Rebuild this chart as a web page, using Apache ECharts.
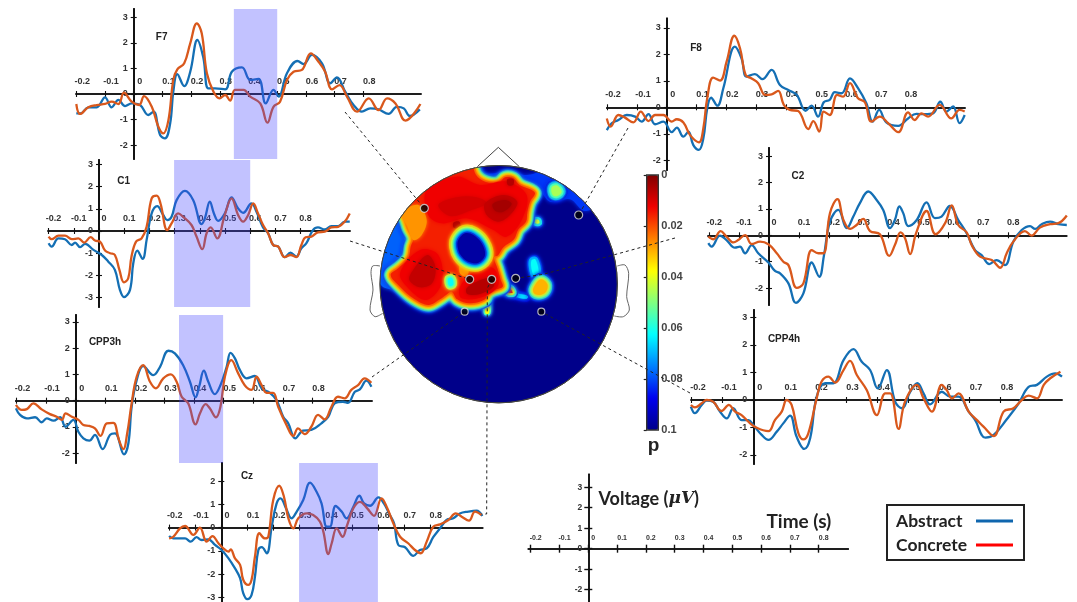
<!DOCTYPE html>
<html><head><meta charset="utf-8">
<style>html,body{margin:0;padding:0;background:#fff}#c{width:1077px;height:602px;filter:blur(0.4px)}</style>
<script src="https://cdn.jsdelivr.net/npm/echarts@6/dist/echarts.min.js"></script>
</head><body><div id="c"></div>
<script>
const xTickLabels=[-0.2,-0.1,0,0.1,0.2,0.3,0.4,0.5,0.6,0.7,0.8];
const yTicksF7=[-2,-1,0,1,2,3], yTicksC=[-3,-2,-1,0,1,2,3], yTicksCz=[-3,-2,-1,0,1,2], yTicksStd=[-2,-1,0,1,2,3];
const pTicks=[0,0.02,0.04,0.06,0.08,0.1];

const f7Abstract=[[-0.2,-0.76],[-0.185,-0.76],[-0.158,-0.52],[-0.129,-0.52],[-0.1,-0.13],[-0.077,-0.52],[-0.053,-0.23],[-0.03,-0.47],[-0.007,-0.37],[0.022,-0.43],[0.051,-0.82],[0.069,-0.69],[0.092,-1.6],[0.109,-1.73],[0.127,-1.15],[0.138,0.09],[0.152,0.78],[0.176,0.31],[0.197,0.87],[0.222,2.11],[0.243,1.4],[0.26,0.22],[0.284,0.22],[0.319,0.18],[0.342,0.87],[0.377,1.04],[0.406,0.55],[0.435,0.59],[0.46,-0.37],[0.487,0.16],[0.505,-0.1],[0.534,0.81],[0.571,1.29],[0.592,1.17],[0.621,1.53],[0.656,1.2],[0.685,0.42],[0.708,0.65],[0.737,0.09],[0.766,-0.43],[0.795,-0.69],[0.824,-0.56],[0.853,-0.6],[0.888,-0.78],[0.917,-0.5],[0.941,-0.56],[0.962,-0.86],[0.997,-0.6]];
const f7Concrete=[[-0.2,-0.39],[-0.187,-0.78],[-0.158,-0.52],[-0.129,-0.43],[-0.1,-0.39],[-0.077,-0.3],[-0.053,-0.39],[-0.034,0.05],[-0.007,-0.3],[0.019,-0.43],[0.036,-0.08],[0.063,-0.5],[0.086,-1.28],[0.103,-1.54],[0.121,-1.02],[0.138,0.55],[0.152,0.96],[0.176,1.2],[0.197,1.98],[0.22,2.76],[0.237,2.37],[0.255,0.81],[0.278,0.09],[0.299,-0.17],[0.319,-0.04],[0.336,-0.26],[0.353,0.16],[0.383,0.16],[0.406,-0.1],[0.441,-0.37],[0.466,-1.12],[0.487,-0.5],[0.51,-0.3],[0.534,0.55],[0.557,0.87],[0.586,0.94],[0.617,1.59],[0.644,1.26],[0.667,0.87],[0.691,0.18],[0.717,0.35],[0.743,-0.1],[0.778,-0.69],[0.819,-0.17],[0.853,-0.63],[0.883,-0.17],[0.912,-0.37],[0.947,-1.04],[0.999,-0.39]];
const c1Abstract=[[-0.2,-0.55],[-0.188,-0.7],[-0.161,-0.33],[-0.135,-0.37],[-0.108,-0.63],[-0.095,-0.52],[-0.075,-0.73],[-0.055,-0.58],[-0.022,-0.85],[0.011,-1.08],[0.037,-1.38],[0.063,-1.75],[0.083,-2.65],[0.099,-2.98],[0.123,-2.65],[0.136,-1.45],[0.152,-0.88],[0.173,-1.26],[0.189,-0.4],[0.209,0.79],[0.231,1.12],[0.255,0.72],[0.271,0.49],[0.288,0.64],[0.308,1.39],[0.341,1.81],[0.374,1.39],[0.407,0.31],[0.42,0.57],[0.44,1.32],[0.456,0.79],[0.473,0.46],[0.499,0.79],[0.526,1.51],[0.552,1.02],[0.572,0.82],[0.605,1.24],[0.625,0.87],[0.651,0.16],[0.671,-0.1],[0.691,-0.63],[0.711,-0.7],[0.737,-1.18],[0.76,-0.97],[0.783,-1.15],[0.803,-0.78],[0.823,-0.55],[0.849,0.04],[0.869,0.16],[0.896,0.07],[0.922,0.22],[0.949,0.22],[0.975,0.42],[0.995,0.42]];
const c1Concrete=[[-0.2,-0.25],[-0.188,-0.37],[-0.161,-0.21],[-0.135,-0.21],[-0.108,-0.37],[-0.082,-0.33],[-0.059,-0.52],[-0.033,-0.28],[-0.016,-0.43],[0.004,-0.48],[0.024,-0.88],[0.044,-1],[0.063,-1.08],[0.081,-1.75],[0.099,-2.31],[0.116,-2.13],[0.129,-1.15],[0.147,-0.48],[0.169,-0.33],[0.189,0.19],[0.209,1.47],[0.229,1.59],[0.244,1.24],[0.271,0.04],[0.288,0.34],[0.314,0.79],[0.334,0.64],[0.367,0.27],[0.387,-0.25],[0.41,-0.82],[0.427,-0.1],[0.443,0.16],[0.469,-0.33],[0.499,0.72],[0.526,1.47],[0.552,0.72],[0.572,0.42],[0.592,0.72],[0.612,1.24],[0.631,0.79],[0.651,0.27],[0.671,-0.1],[0.691,-0.63],[0.711,-0.7],[0.737,-1.18],[0.76,-1.08],[0.783,-1.18],[0.803,-0.63],[0.82,-0.28],[0.843,-0.25],[0.869,-0.06],[0.896,-0.03],[0.922,0.16],[0.949,0.19],[0.975,0.42],[0.995,0.79]];
const cpp3Abstract=[[-0.202,-0.29],[-0.188,-0.54],[-0.165,-0.67],[-0.137,-0.63],[-0.115,-0.82],[-0.098,-0.67],[-0.075,-0.76],[-0.053,-0.63],[-0.034,-0.99],[-0.008,-0.73],[0.009,-1.18],[0.026,-1.43],[0.046,-1.52],[0.065,-1.3],[0.091,-1.84],[0.116,-1.3],[0.133,-1.24],[0.163,-2.04],[0.178,-1.62],[0.189,-0.23],[0.206,0.78],[0.228,1.32],[0.262,0.97],[0.285,1.29],[0.313,1.9],[0.335,1.8],[0.363,1.35],[0.386,0.72],[0.405,0.13],[0.417,0.53],[0.433,1.14],[0.448,0.72],[0.47,0.25],[0.489,0.59],[0.51,1.29],[0.523,1.82],[0.538,1.61],[0.555,1.16],[0.577,0.85],[0.605,0.94],[0.628,0.47],[0.656,0.3],[0.678,0.03],[0.701,-0.61],[0.718,-0.86],[0.742,-1.43],[0.768,-1.14],[0.796,-1.11],[0.83,-0.86],[0.853,-0.61],[0.875,-0.1],[0.903,-0.04],[0.92,-0.08],[0.943,0.34],[0.96,0.43],[0.982,0.76],[0.999,0.53]];
const cpp3Concrete=[[-0.202,-0.16],[-0.182,-0.35],[-0.165,-0.32],[-0.143,-0.1],[-0.115,-0.33],[-0.087,-0.51],[-0.064,-0.61],[-0.047,-0.73],[-0.034,-0.48],[-0.013,-0.61],[0.009,-0.73],[0.026,-0.92],[0.046,-0.96],[0.065,-1.05],[0.084,-1.34],[0.105,-0.86],[0.127,-0.84],[0.146,-1.49],[0.161,-1.84],[0.174,-1.24],[0.189,-0.1],[0.206,0.91],[0.228,1.35],[0.251,0.72],[0.271,0.47],[0.296,0.85],[0.321,1],[0.341,0.72],[0.358,0.15],[0.38,-0.1],[0.405,-0.9],[0.42,-0.48],[0.439,-0.13],[0.453,-0.29],[0.474,-0.63],[0.489,-0.23],[0.504,0.91],[0.526,1.54],[0.549,1.04],[0.571,0.59],[0.594,0.41],[0.611,0.91],[0.628,0.59],[0.645,0.3],[0.667,0.3],[0.684,-0.23],[0.712,-0.92],[0.735,-1.34],[0.751,-1.05],[0.774,-1.27],[0.796,-0.99],[0.819,-0.54],[0.841,-0.71],[0.864,-0.23],[0.886,0.15],[0.909,0.09],[0.931,0.41],[0.954,0.59],[0.976,0.85],[0.999,0.68]];
const czAbstract=[[-0.2,-0.36],[-0.184,-0.46],[-0.158,-0.46],[-0.139,-0.46],[-0.117,-0.6],[-0.095,-0.41],[-0.075,-0.53],[-0.05,-0.5],[-0.024,-0.74],[0.001,-0.96],[0.027,-1.31],[0.052,-1.74],[0.072,-2.17],[0.084,-2.81],[0.1,-3.07],[0.116,-2.89],[0.129,-2.1],[0.142,-0.96],[0.155,-0.84],[0.174,-1.1],[0.193,0.04],[0.212,1.04],[0.227,1.26],[0.248,0.83],[0.269,0.4],[0.289,0.69],[0.314,1.19],[0.34,1.93],[0.365,1.54],[0.384,1.04],[0.404,0.04],[0.416,0.04],[0.438,0.93],[0.461,0.69],[0.48,0.4],[0.506,0.9],[0.529,1.37],[0.547,1.04],[0.57,0.94],[0.602,1.3],[0.623,1.04],[0.646,0.54],[0.662,0.19],[0.678,-0.74],[0.704,-0.84],[0.736,-1.21],[0.761,-0.96],[0.787,-0.89],[0.812,-0.41],[0.838,-0.03],[0.863,0.33],[0.889,0.4],[0.914,0.61],[0.946,0.69],[0.978,0.73],[1,0.5]];
const czConcrete=[[-0.2,-0.46],[-0.184,-0.39],[-0.158,-0.03],[-0.139,0.07],[-0.107,-0.31],[-0.082,0],[-0.056,-0.6],[-0.034,-0.36],[-0.011,-0.67],[0.008,-0.89],[0.027,-1.03],[0.036,-0.93],[0.052,-1.31],[0.072,-1.6],[0.084,-2.24],[0.103,-2.46],[0.116,-2.24],[0.129,-1.24],[0.146,-0.24],[0.167,-0.46],[0.18,-0.39],[0.199,1.19],[0.222,1.8],[0.24,1.33],[0.257,0.4],[0.276,-0.03],[0.295,0.4],[0.327,0.61],[0.352,0.54],[0.378,0.26],[0.391,-0.17],[0.41,-1.14],[0.423,-0.67],[0.442,-0.03],[0.465,-0.39],[0.48,0.04],[0.506,0.83],[0.531,1.11],[0.559,0.83],[0.585,0.51],[0.614,1.26],[0.636,0.83],[0.659,0.19],[0.685,-0.39],[0.716,-0.67],[0.742,-0.96],[0.764,-1.1],[0.787,-0.6],[0.812,0.04],[0.838,0.14],[0.87,0.33],[0.898,0.61],[0.921,0.47],[0.949,0.3],[0.972,0.69],[0.997,0.54]];
const f8Abstract=[[-0.201,-0.86],[-0.184,-0.6],[-0.162,-0.48],[-0.134,-0.29],[-0.106,-0.35],[-0.084,-0.54],[-0.061,-0.26],[-0.039,-0.64],[-0.011,-0.54],[0.017,-0.94],[0.034,-0.77],[0.056,-1.11],[0.073,-0.92],[0.089,-1.42],[0.108,-1.61],[0.123,-1.17],[0.136,-0.04],[0.149,0.36],[0.17,0.06],[0.19,0.72],[0.229,2.29],[0.251,1.85],[0.268,1.16],[0.296,1.25],[0.321,1.06],[0.352,1.41],[0.38,0.84],[0.408,0.65],[0.436,0.47],[0.466,-0.13],[0.486,0.06],[0.508,-0.35],[0.527,0.19],[0.547,0.28],[0.564,0.57],[0.587,0.53],[0.615,1.09],[0.642,0.72],[0.67,0.15],[0.691,-0.54],[0.713,-0.1],[0.737,-0.57],[0.777,-0.7],[0.81,-0.42],[0.838,-0.25],[0.866,-0.26],[0.894,-0.23],[0.918,0.21],[0.939,-0.16],[0.961,0.03],[0.983,-0.6],[1,-0.29]];
const f8Concrete=[[-0.201,-0.42],[-0.188,-0.73],[-0.162,-0.29],[-0.14,-0.39],[-0.112,-0.57],[-0.087,-0.16],[-0.061,-0.52],[-0.039,-0.29],[-0.011,-0.29],[0.017,-0.54],[0.034,-0.45],[0.056,-0.57],[0.078,-1.04],[0.108,-1.32],[0.123,-0.79],[0.136,0.34],[0.156,1.12],[0.179,1.01],[0.201,1.72],[0.227,2.7],[0.246,2.23],[0.265,1.22],[0.285,1.09],[0.307,0.91],[0.33,0.47],[0.352,0.49],[0.374,0.62],[0.393,0.09],[0.413,-0.1],[0.441,-0.14],[0.475,-0.82],[0.492,-0.52],[0.512,-0.92],[0.527,-0.16],[0.547,-0.29],[0.572,0.47],[0.592,0.4],[0.615,0.91],[0.642,0.34],[0.665,0.19],[0.687,-0.54],[0.715,-0.35],[0.743,-0.6],[0.777,-0.94],[0.81,-0.19],[0.832,-0.48],[0.855,-0.23],[0.877,-0.35],[0.916,0.09],[0.955,-0.42],[0.983,-0.1],[1,-0.16]];
const c2Abstract=[[-0.203,-0.3],[-0.192,-0.43],[-0.164,-0.01],[-0.142,-0.18],[-0.114,-0.47],[-0.097,-0.43],[-0.08,-0.68],[-0.058,-0.37],[-0.036,-0.68],[-0.002,-1.03],[0.02,-1.35],[0.037,-1.44],[0.065,-1.82],[0.09,-2.56],[0.115,-2.2],[0.143,-1.03],[0.168,-1.57],[0.184,-0.75],[0.204,0.52],[0.232,0.96],[0.26,0.27],[0.282,0.71],[0.304,1.22],[0.332,1.66],[0.36,1.34],[0.382,0.96],[0.405,0.27],[0.421,0.58],[0.436,1.09],[0.449,0.84],[0.466,0.35],[0.494,0.58],[0.527,1.25],[0.555,0.65],[0.577,0.71],[0.605,1.11],[0.633,0.58],[0.661,0.08],[0.689,-0.56],[0.711,-0.75],[0.737,-1.09],[0.761,-0.94],[0.789,-1.13],[0.817,-0.24],[0.845,0.2],[0.873,0.35],[0.89,0.24],[0.912,0.42],[0.94,0.52],[0.968,0.42],[0.996,0.39]];
const c2Concrete=[[-0.203,-0.05],[-0.186,-0.15],[-0.162,0.16],[-0.142,-0.05],[-0.119,-0.27],[-0.103,-0.18],[-0.08,0.01],[-0.058,-0.33],[-0.03,-0.24],[-0.002,-0.34],[0.026,-0.68],[0.048,-1],[0.065,-1.13],[0.093,-1.99],[0.115,-1.82],[0.143,-0.56],[0.165,-0.68],[0.182,-0.68],[0.204,0.84],[0.229,1.37],[0.249,0.58],[0.271,0.24],[0.293,0.39],[0.315,0.62],[0.338,0.16],[0.371,0.04],[0.402,-0.78],[0.421,-0.37],[0.44,0.11],[0.455,-0.11],[0.472,-0.71],[0.492,0.08],[0.527,0.92],[0.557,0.04],[0.589,0.46],[0.611,1.13],[0.633,0.39],[0.661,0.11],[0.678,-0.37],[0.706,-0.81],[0.745,-0.94],[0.773,-1.23],[0.795,-0.68],[0.817,-0.24],[0.856,0.16],[0.878,-0.01],[0.906,0.29],[0.94,0.42],[0.968,0.46],[0.996,0.75]];
const cpp4Abstract=[[-0.202,-0.24],[-0.189,-0.48],[-0.167,-0.18],[-0.151,-0.02],[-0.13,-0.06],[-0.108,-0.42],[-0.086,-0.67],[-0.065,-0.3],[-0.038,-0.73],[-0.016,-0.73],[0,-0.91],[0.027,-1.27],[0.049,-1.45],[0.076,-1.15],[0.097,-0.85],[0.119,-0.57],[0.14,-1.33],[0.165,-1.78],[0.184,-1.39],[0.205,0.12],[0.232,0.61],[0.259,0.61],[0.292,1.45],[0.324,1.85],[0.351,1.39],[0.378,1.09],[0.403,0.42],[0.432,1.09],[0.459,-0.06],[0.481,-0.3],[0.508,0.3],[0.531,0.61],[0.551,0.24],[0.572,-0.16],[0.61,0.3],[0.637,0.12],[0.664,0.12],[0.697,-0.42],[0.718,-0.73],[0.751,-1.37],[0.778,-1.27],[0.821,-0.69],[0.859,-0.12],[0.891,0.48],[0.918,0.55],[0.95,0.85],[0.977,0.97],[0.999,0.85]];
const cpp4Concrete=[[-0.202,-0.18],[-0.189,-0.27],[-0.167,-0.12],[-0.151,0],[-0.13,-0.06],[-0.103,-0.4],[-0.079,-0.18],[-0.059,-0.42],[-0.038,-0.55],[-0.016,-0.79],[0.011,-1.01],[0.049,-1.13],[0.07,-0.73],[0.092,-0.42],[0.108,0],[0.124,-0.18],[0.146,-1.21],[0.162,-1.43],[0.178,-1.21],[0.205,0.06],[0.221,0.67],[0.243,0.85],[0.265,0.63],[0.292,1.09],[0.313,1.42],[0.335,0.91],[0.367,0.36],[0.4,-0.55],[0.427,0.24],[0.443,0.24],[0.47,-1.05],[0.491,-0.06],[0.529,0.55],[0.551,0.06],[0.578,-0.42],[0.61,0.55],[0.626,0.36],[0.643,0.06],[0.664,0.24],[0.697,-0.42],[0.724,-0.73],[0.745,-0.97],[0.778,-1.31],[0.81,-0.42],[0.842,-0.3],[0.869,0],[0.891,0.16],[0.918,0.06],[0.94,0.55],[0.961,0.79],[0.994,1.03]];

const shadeF7=[0.349,0.5], shadeC1=[0.298,0.6], shadeCPP3h=[0.349,0.498], shadeCz=[0.298,0.6];

/* Scalp: p-value regions (head-map units, 3 per screen pixel) */
const scalpRegions={
 hazeTop:[[330,70],[345,100],[410,95],[470,105],[525,95],[545,118],[575,105],[625,150],[665,205],[640,212],[600,178],[540,185],[515,160],[480,140],[380,125],[325,118]],
 hazeLeft:[[85,225],[118,270],[125,325],[85,375],[62,405],[95,445],[38,440],[22,400],[35,335],[65,270]],
 armUp:[[484,362],[496,358],[506,400],[495,412],[486,392]],
 armLeft:[[400,440],[440,460],[475,468],[470,476],[435,470],[396,450]],
 rightLobe:[[490,445],[512,418],[532,432],[528,455],[508,465],[492,460]],
 spotRight:[[408,448],[420,446],[428,458],[416,458]],
 tip:[[346,480],[356,482],[357,520],[346,520]],
 spotTopRight:[[545,142],[560,136],[575,155],[562,168],[548,165]],
 spotSmall:[[494,240],[506,240],[508,250],[496,250]],
 main:[[300,60],[318,105],[345,125],[385,130],[405,112],[430,115],[448,135],[480,148],[495,160],[480,185],[472,215],[468,245],[445,268],[432,298],[400,322],[385,345],[372,352],[382,385],[392,420],[398,440],[370,450],[352,460],[345,478],[300,490],[262,478],[245,455],[228,465],[210,478],[175,495],[130,475],[90,440],[62,405],[85,385],[115,355],[122,320],[130,295],[115,265],[105,235],[95,220],[55,200],[120,90],[250,45]],
 orangeLeft:[[95,220],[145,195],[170,240],[155,285],[130,300],[112,260]],
 orangeTip:[[272,368],[295,385],[290,410],[270,400]],
 upper:[[170,150],[260,110],[330,135],[410,125],[470,165],[455,240],[410,290],[370,270],[290,235],[215,250],[175,225]],
 leftLobe:[[90,400],[150,330],[205,345],[215,430],[170,480],[120,450]],
 lowerPatch:[[270,440],[320,390],[370,385],[385,435],[340,470],[275,475]],
 coreUpper:[[205,195],[260,172],[320,172],[350,190],[300,212],[240,228]],
 coreRight:[[345,190],[400,165],[442,185],[420,225],[385,245],[350,225]],
 coreRightIn:[[368,192],[405,180],[425,192],[400,215],[375,212]],
 coreLeft:[[128,392],[172,345],[196,380],[186,430],[150,442],[118,420]],
 coreLower:[[290,445],[320,425],[362,415],[372,438],[330,462],[292,462]],
 spotDark1:[[250,248],[268,245],[270,262],[252,264]],
 spotDark2:[[412,118],[430,118],[430,134],[414,136]],
 hole:[[265,300],[285,280],[310,285],[335,310],[345,345],[325,368],[295,365],[272,345],[263,320]],
 notch:[[234,416],[246,414],[250,434],[238,438]]
};
const regionNames=Object.keys(scalpRegions);
/* region, p value, outline width */
const scalpBands=[
 ['hazeTop',0.082,0],['hazeLeft',0.078,0],
 ['armUp',0.09,8],['armUp',0.072,5],['armUp',0.062,0],
 ['armLeft',0.09,6],['armLeft',0.066,0],
 ['rightLobe',0.09,13],['rightLobe',0.07,9],['rightLobe',0.056,6],['rightLobe',0.044,3],['rightLobe',0.03,0],
 ['spotRight',0.09,11],['spotRight',0.066,8],['spotRight',0.042,4],['spotRight',0.016,0],
 ['tip',0.09,6],['tip',0.06,3],['tip',0.038,0],
 ['spotTopRight',0.09,12],['spotTopRight',0.072,8],['spotTopRight',0.058,4],['spotTopRight',0.046,0],
 ['spotSmall',0.09,8],['spotSmall',0.066,5],['spotSmall',0.042,0],
 ['main',0.088,16],['main',0.072,13],['main',0.0585,10.5],['main',0.046,8],['main',0.036,6],['main',0.027,3.5],['main',0.0155,0],
 ['orangeLeft',0.027,0],['orangeTip',0.027,0],
 ['upper',0.0125,0],['leftLobe',0.0125,0],['lowerPatch',0.0125,0],
 ['coreUpper',0.0095,0],['coreRight',0.0075,0],['coreRightIn',0.004,0],['coreLeft',0.0075,0],['coreLower',0.006,0],
 ['spotDark1',0.006,0],['spotDark2',0.006,0],
 ['hole',0.03,17],['hole',0.04,13],['hole',0.05,9.5],['hole',0.062,6.5],['hole',0.08,3],['hole',0.097,0],
 ['notch',0.035,7],['notch',0.05,4],['notch',0.062,0]
];
const electrodes=[[163,205,8],[626,225,8],[299,418,8],[365,418,8],[437,415,8],[284,515,7],[514,515,7]];
const linkF7=[[-75,-84],[163,205]], linkF8=[[774,-36],[626,225]], linkC1=[[-60,303],[299,418]], linkC2=[[915,294],[520,403],[437,415]], linkCPP3h=[[6,711],[284,515]], linkCPP4h=[[960,759],[514,515]], linkCz=[[365,418],[352,445],[350,1122],[335,1122]];
const noseLine=[[322,80],[385,22],[448,80]];
const earLeft=[[30,378],[8,378],[3,400],[9,450],[0,510],[15,530],[38,520]];
const earRight=[[742,378],[765,375],[776,400],[770,470],[778,510],[760,530],[733,528]];

const jet=['#800000','#f00000','#ff8000','#ffff00','#80ff80','#00ffff','#0080ff','#0000f0','#00008a'];
const BLUE='#146fb4', ORANGE='#d9581c', FONT='"Liberation Sans",Arial,sans-serif';

const panels=[
 {name:'F7',a:f7Abstract,c:f7Concrete,shade:shadeF7,yt:yTicksF7,x0:133.7,px:28.7,xL:76,xR:421,y0:94,pv:25.6,yT:9,yB:159,lx:161.7,ly:37,off:6},
 {name:'C1',a:c1Abstract,c:c1Concrete,shade:shadeC1,yt:yTicksC,x0:99,px:25.2,xL:48,xR:350,y0:231,pv:22.2,yT:160,yB:307,lx:123.7,ly:181.7,off:5},
 {name:'CPP3h',a:cpp3Abstract,c:cpp3Concrete,shade:shadeCPP3h,yt:yTicksStd,x0:75.7,px:29.6,xL:15.7,xR:372,y0:400.7,pv:26.3,yT:315,yB:463,lx:105,ly:342,off:6},
 {name:'Cz',a:czAbstract,c:czConcrete,shade:shadeCz,yt:yTicksCz,x0:221.3,px:26.1,xL:168.7,xR:482.7,y0:527.7,pv:23.3,yT:463,yB:602,lx:247,ly:476,off:5.7},
 {name:'F8',a:f8Abstract,c:f8Concrete,shade:null,yt:yTicksStd,x0:666.7,px:29.8,xL:606.7,xR:965,y0:107.3,pv:26.5,yT:18.3,yB:170,lx:696,ly:48,off:6},
 {name:'C2',a:c2Abstract,c:c2Concrete,shade:null,yt:yTicksStd,x0:769,px:29.9,xL:708,xR:1066.7,y0:235.3,pv:26.4,yT:148,yB:305,lx:798,ly:176.7,off:5},
 {name:'CPP4h',a:cpp4Abstract,c:cpp4Concrete,shade:null,yt:yTicksStd,x0:753.3,px:30.9,xL:691,xR:1062,y0:400,pv:27.5,yT:310,yB:464,lx:784,ly:339,off:6.5},
 {name:'',a:null,c:null,shade:null,yt:yTicksStd,x0:588.3,px:28.8,xL:528.3,xR:848.3,y0:548.7,pv:20.5,yT:474.3,yB:602,off:5,small:true}
];

const grid=[],xAxis=[],yAxis=[],series=[],title=[];
panels.forEach((p,i)=>{
 const xMin=(p.xL-p.x0)/(p.px*10), xMax=(p.xR-p.x0)/(p.px*10), yMax=(p.y0-p.yT)/p.pv, yMin=(p.y0-p.yB)/p.pv;
 grid.push({left:p.xL,top:p.yT,width:p.xR-p.xL,height:p.yB-p.yT,show:false});
 const xOff=-(p.yB-p.y0), yOff=-(p.x0-p.xL);
 const line={onZero:false,lineStyle:{color:'#111',width:1.6}};
 const tick=(vals,inside)=>({show:true,customValues:vals,inside,length:p.small?4:3,lineStyle:{color:'#111',width:p.small?1.4:1.1}});
 const fs=p.small?7:9;
 xAxis.push({type:'value',gridIndex:i,min:xMin,max:xMax,position:'bottom',offset:xOff,z:2,splitLine:{show:false},axisLine:line,axisTick:tick(xTickLabels,false),
  axisLabel:{customValues:xTickLabels,inside:true,margin:p.small?7:8,padding:[0,0,0,p.off*2],fontSize:fs,fontWeight:'bold',fontFamily:FONT,color:'#333',formatter:v=>String(v),hideOverlap:false}});
 xAxis.push({type:'value',gridIndex:i,min:xMin,max:xMax,position:'bottom',offset:xOff,z:2,splitLine:{show:false},axisLine:line,axisTick:tick(xTickLabels,true),axisLabel:{show:false}});
 const yLine={onZero:false,lineStyle:{color:'#111',width:p.small?1.6:1.8}};
 yAxis.push({type:'value',gridIndex:i,min:yMin,max:yMax,position:'left',offset:yOff,z:2,splitLine:{show:false},axisLine:yLine,axisTick:tick(p.yt,false),
  axisLabel:{customValues:p.yt,margin:6,fontSize:p.small?8.5:9,fontWeight:'bold',fontFamily:FONT,color:'#333',formatter:v=>String(v),hideOverlap:false}});
 yAxis.push({type:'value',gridIndex:i,min:yMin,max:yMax,position:'left',offset:yOff,z:2,splitLine:{show:false},axisLine:yLine,axisTick:tick(p.yt,true),axisLabel:{show:false}});
 const xi=i*2, yi=i*2;
 const s=(name,data,color,extra)=>Object.assign({type:'line',name,data:data||[],xAxisIndex:xi,yAxisIndex:yi,smooth:0.4,showSymbol:false,symbol:'none',
   lineStyle:{color,width:2.3},itemStyle:{color},silent:true,animation:false,z:3},extra||{});
 if(p.a){
  series.push(s('Abstract',p.a,BLUE));
  const extra=p.shade?{markArea:{silent:true,z:10,animation:false,itemStyle:{color:'rgba(70,70,255,0.33)'},label:{show:false},data:[[{xAxis:p.shade[0],yAxis:yMin},{xAxis:p.shade[1],yAxis:yMax}]]}}:{};
  series.push(s('Concrete',p.c,ORANGE,extra));
  title.push({text:p.name,left:p.lx,top:p.ly,textAlign:'center',textVerticalAlign:'middle',padding:0,textStyle:{fontFamily:FONT,fontSize:10,fontWeight:'bold',color:'#222'}});
 }
});

/* colour-bar axis grid */
const cbIdx=panels.length*2;
grid.push({left:646.7,top:175,width:11.6,height:255,show:true,backgroundColor:'transparent',borderColor:'#333',borderWidth:1.4,z:9});
xAxis.push({type:'value',gridIndex:panels.length,min:0,max:1,show:false});
yAxis.push({type:'value',gridIndex:panels.length,min:0,max:0.1,inverse:true,position:'right',splitLine:{show:false},axisLine:{show:false},
 axisTick:{customValues:pTicks,inside:true,length:3,lineStyle:{color:'#222',width:1.2}},
 axisLabel:{customValues:pTicks,margin:3,fontSize:11,fontWeight:'bold',fontFamily:FONT,color:'#444',formatter:v=>String(v),hideOverlap:false}});

/* overlay for the head map (3 units per px, origin at 370,140) */
const ovGrid=panels.length+1, ovX=cbIdx+1, ovY=cbIdx+1;
grid.push({left:0,right:0,top:0,bottom:0,show:false});
xAxis.push({type:'value',gridIndex:ovGrid,min:-1110,max:2121,show:false});
yAxis.push({type:'value',gridIndex:ovGrid,min:-420,max:1386,inverse:true,show:false});

const CX=386,CY=432.5,R=356;
const circ=api=>{const c=api.coord([CX,CY]),e=api.coord([CX+R,CY]);return {cx:c[0],cy:c[1],r:e[0]-c[0]};};
series.push({type:'custom',name:'head',coordinateSystem:'cartesian2d',xAxisIndex:ovX,yAxisIndex:ovY,z:4,silent:true,animation:false,data:[[CX,CY]],
 renderItem:(params,api)=>({type:'group',children:[
   {type:'polyline',shape:{points:noseLine.map(p=>api.coord(p))},style:{fill:null,stroke:'#444',lineWidth:1}},
   {type:'polyline',shape:{points:earLeft.map(p=>api.coord(p)),smooth:0.3},style:{fill:null,stroke:'#666',lineWidth:1}},
   {type:'polyline',shape:{points:earRight.map(p=>api.coord(p)),smooth:0.3},style:{fill:null,stroke:'#666',lineWidth:1}},
   {type:'circle',shape:circ(api),style:{fill:jet[8],stroke:'#333',lineWidth:1}}
 ]})});
const scalpIdx=series.length;
series.push({type:'custom',name:'scalp p',coordinateSystem:'cartesian2d',xAxisIndex:ovX,yAxisIndex:ovY,z:5,silent:true,animation:false,clip:false,
 data:scalpBands.map(b=>[regionNames.indexOf(b[0]),b[1],b[2]]),
 encode:{x:0,y:2},
 renderItem:(params,api)=>{
  const pts=scalpRegions[regionNames[api.value(0)]].map(p=>api.coord(p));
  const color=api.visual('color'),w=api.value(2);
  return {type:'polygon',shape:{points:pts,smooth:0.35},clipPath:{type:'circle',shape:circ(api)},
   style:{fill:color,stroke:w?color:null,lineWidth:w,lineJoin:'round',shadowBlur:4,shadowColor:color}};
 }});
series.push({type:'custom',name:'head outline',coordinateSystem:'cartesian2d',xAxisIndex:ovX,yAxisIndex:ovY,z:6,silent:true,animation:false,data:[[CX,CY]],
 renderItem:(params,api)=>({type:'circle',shape:circ(api),style:{fill:null,stroke:'#444',lineWidth:1}})});
[linkF7,linkF8,linkC1,linkC2,linkCPP3h,linkCPP4h,linkCz].forEach((d,i)=>series.push({type:'line',name:'link'+i,data:d,xAxisIndex:ovX,yAxisIndex:ovY,z:7,symbol:'none',silent:true,animation:false,
 lineStyle:{color:'#222',width:1,type:[3,3]}}));
series.push({type:'scatter',name:'electrodes',data:electrodes,xAxisIndex:ovX,yAxisIndex:ovY,z:8,silent:true,animation:false,
 symbolSize:v=>v[2],itemStyle:{color:'#000',borderColor:'#ddd',borderWidth:1.2}});

title.push({text:'p',left:653.5,top:446,textAlign:'center',textVerticalAlign:'middle',padding:0,textStyle:{fontFamily:FONT,fontSize:19,fontWeight:'bold',color:'#222'}});
title.push({text:'Voltage ({i|μV})',left:598.5,top:499,textVerticalAlign:'middle',padding:0,textStyle:{fontFamily:'Lato,sans-serif',fontSize:18,fontWeight:'bold',color:'#222',rich:{i:{fontFamily:'"DejaVu Serif",serif',fontStyle:'italic',fontSize:17,fontWeight:'bold',color:'#222'}}}});
title.push({text:'Time (s)',left:766.5,top:522,textVerticalAlign:'middle',padding:0,textStyle:{fontFamily:'Lato,sans-serif',fontSize:19,fontWeight:'bold',color:'#222'}});

const legendText={fontFamily:'Lato,sans-serif',fontSize:17.5,fontWeight:'bold',color:'#222',width:75,align:'left'};
const chart=echarts.init(document.getElementById('c'),null,{renderer:'canvas'});
chart.setOption({animation:false,backgroundColor:'#fff',title,grid,xAxis,yAxis,series,
 legend:{show:true,left:887,top:505,orient:'vertical',align:'right',selectedMode:false,borderColor:'#222',borderWidth:2,padding:[7,11,6,9],itemGap:6,itemWidth:37,itemHeight:3,icon:'rect',
  formatter:n=>'{t|'+n+'}',
  textStyle:{fontFamily:'Lato,sans-serif',fontSize:17.5,fontWeight:'bold',color:'#222',rich:{t:legendText}},
  data:[{name:'Abstract',itemStyle:{color:'#0f66ae'}},{name:'Concrete',itemStyle:{color:'#f00'}}]},
 visualMap:{type:'continuous',seriesIndex:scalpIdx,dimension:1,min:0,max:0.1,inverse:true,calculable:false,realtime:false,show:true,orient:'vertical',left:646.7,top:175,itemWidth:11.6,itemHeight:255,padding:0,text:['',''],showLabel:false,hoverLink:false,inRange:{color:jet}}
});
</script></body></html>
